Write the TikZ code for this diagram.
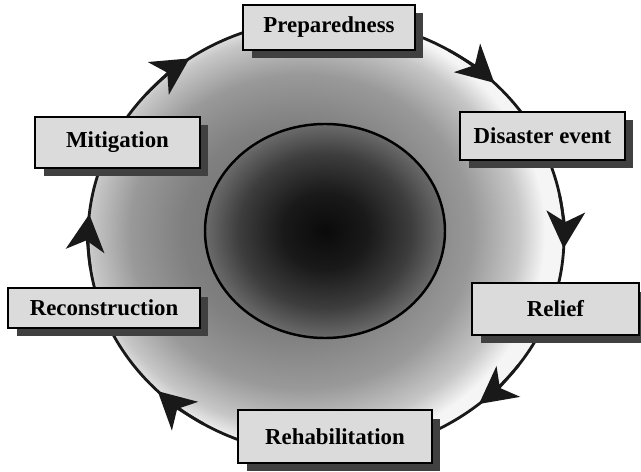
\documentclass[tikz,border=0pt]{standalone}
\usepackage{fontspec}
\setmainfont{Liberation Serif}
\usetikzlibrary{arrows.meta,calc,shadows}
\pgfdeclareradialshading{ringshade}{\pgfpoint{-4bp}{1bp}}{color(0bp)=(black!58); color(12bp)=(black!50); color(18bp)=(black!40); color(22.5bp)=(black!22); color(25bp)=(black!4); color(50bp)=(black!4)}
\pgfdeclareradialshading{coreshade}{\pgfpoint{0bp}{0bp}}{color(0bp)=(black!96); color(9bp)=(black!90); color(18bp)=(black!76); color(25bp)=(black!58); color(50bp)=(black!58)}
\begin{document}
\begin{tikzpicture}[x=0.02cm,y=-0.02cm,
  stage/.style={draw=black, line width=0.7pt, fill=black!14, inner sep=0pt,
    font=\bfseries\fontsize{13}{15}\selectfont,
    drop shadow={shadow xshift=0.17cm, shadow yshift=-0.17cm, fill=black!75, opacity=1}},
  ring/.style={line width=1.6pt, black!90},
  tipped/.style={-{Stealth[length=21pt,width=22pt,inset=6pt]}}
]
\useasboundingbox (0,0) rectangle (641,472);
\fill[white] (0,0) rectangle (641,472);
\coordinate (O) at (326,237);
\shade[shading=ringshade] (O) ellipse [x radius=238, y radius=218];
\draw[ring] (O) ellipse [x radius=238, y radius=218];
\foreach \t in {235,315,363,410,495,546}{
  \draw[ring, tipped] ($(O)+({\t-14}:238 and 218)$) arc [start angle=\t-14, end angle=\t, x radius=238, y radius=218];
}
\coordinate (C) at (325,231);
\shade[shading=coreshade] (C) ellipse [x radius=120, y radius=107];
\draw[line width=1.4pt, black] (C) ellipse [x radius=120, y radius=107];

\node[stage, minimum width=3.44cm, minimum height=0.90cm] (prep) at (329,27.5) {Preparedness};
\node[stage, minimum width=3.30cm, minimum height=0.96cm] (dis) at (542.5,136) {Disaster event};
\node[stage, minimum width=3.34cm, minimum height=1.04cm] (rel) at (555.5,309) {Relief};
\node[stage, minimum width=3.88cm, minimum height=1.06cm] (reh) at (335,436.5) {Rehabilitation};
\node[stage, minimum width=3.84cm, minimum height=0.80cm] (rec) at (104,308) {Reconstruction};
\node[stage, minimum width=3.30cm, minimum height=1.02cm] (mit) at (117.5,142.5) {Mitigation};
\end{tikzpicture}
\end{document}
